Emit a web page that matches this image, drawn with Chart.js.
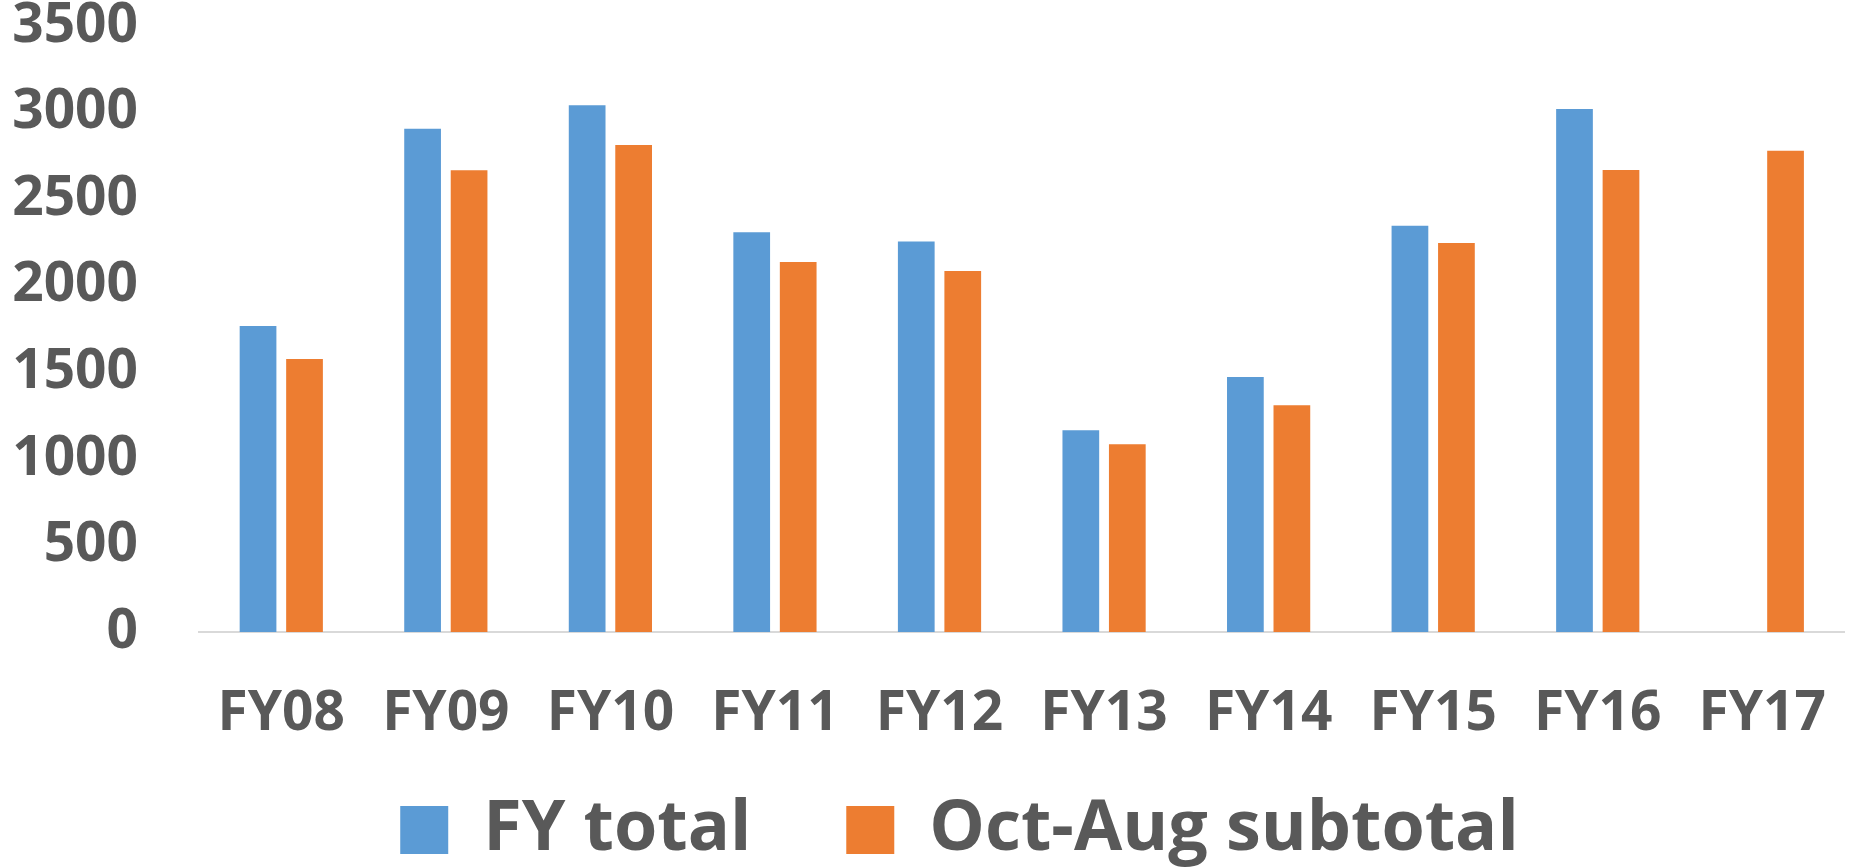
<!DOCTYPE html>
<html>
<head>
<meta charset="utf-8">
<script src="https://cdn.jsdelivr.net/npm/chart.js@4"></script>
<style>
    html, body { margin: 0; padding: 0; background: #ffffff; }
    #wrap { width: 1875px; height: 867px; }
</style>
</head>
<body>
<div id="wrap"><canvas id="fyChart"></canvas></div>
<script>
const years = ['FY08', 'FY09', 'FY10', 'FY11', 'FY12', 'FY13', 'FY14', 'FY15', 'FY16', 'FY17'];
const fyTotal = [1768, 2907, 3043, 2309, 2255, 1165, 1473, 2347, 3020, null];
const octAugSubtotal = [1577, 2667, 2812, 2137, 2085, 1084, 1310, 2246, 2669, 2779];
const yTicks = [0, 500, 1000, 1500, 2000, 2500, 3000, 3500];

const textColor = '#595959';
const fontName = '"Open Sans", Calibri, sans-serif';

// legend padding also sets the gap between items, so move the box up afterwards
const legendShift = {
    id: 'legendShift',
    afterLayout(chart) {
        const lg = chart.legend;
        lg.top -= 62;
        lg.bottom = chart.height;
        lg.height = lg.bottom - lg.top;
        lg.left += 22;
        lg.right += 22;
    }
};

new Chart(document.getElementById('fyChart'), {
    type: 'bar',
    data: {
        labels: years,
        datasets: [{
            label: 'FY total',
            data: fyTotal,
            backgroundColor: '#5B9BD5',
            categoryPercentage: 0.565,
            barPercentage: 0.79
        }, {
            label: 'Oct-Aug subtotal',
            data: octAugSubtotal,
            backgroundColor: '#ED7D31',
            categoryPercentage: 0.565,
            barPercentage: 0.79
        }]
    },
    plugins: [legendShift],
    options: {
        responsive: true,
        maintainAspectRatio: false,
        animation: false,
        layout: {
            padding: { top: 26, right: 0, left: 0, bottom: 0 }
        },
        plugins: {
            tooltip: { enabled: false },
            legend: {
                position: 'bottom',
                maxHeight: 105,
                labels: {
                    color: textColor,
                    boxWidth: 48,
                    boxHeight: 48,
                    padding: 95,
                    font: { family: fontName, size: 70, weight: 'bold' }
                }
            }
        },
        scales: {
            x: {
                grid: { display: false, drawTicks: false },
                border: { display: true, color: '#d9d9d9', width: 2 },
                ticks: {
                    color: textColor,
                    padding: 49,
                    font: { family: fontName, size: 55, weight: 'bold' }
                },
                afterFit: scale => { scale.height = 130; }
            },
            y: {
                min: 0,
                max: 3500,
                afterBuildTicks: scale => {
                    scale.ticks = yTicks.map(v => ({ value: v }));
                },
                grid: { display: false, drawTicks: false },
                border: { display: false },
                ticks: {
                    color: textColor,
                    padding: 61,
                    font: { family: fontName, size: 55, weight: 'bold' },
                    callback: value => String(value)
                },
                afterFit: scale => {
                    scale.width = 199;
                    scale.paddingTop = 0;
                    scale.paddingBottom = 0;
                }
            }
        }
    }
});
</script>
</body>
</html>
